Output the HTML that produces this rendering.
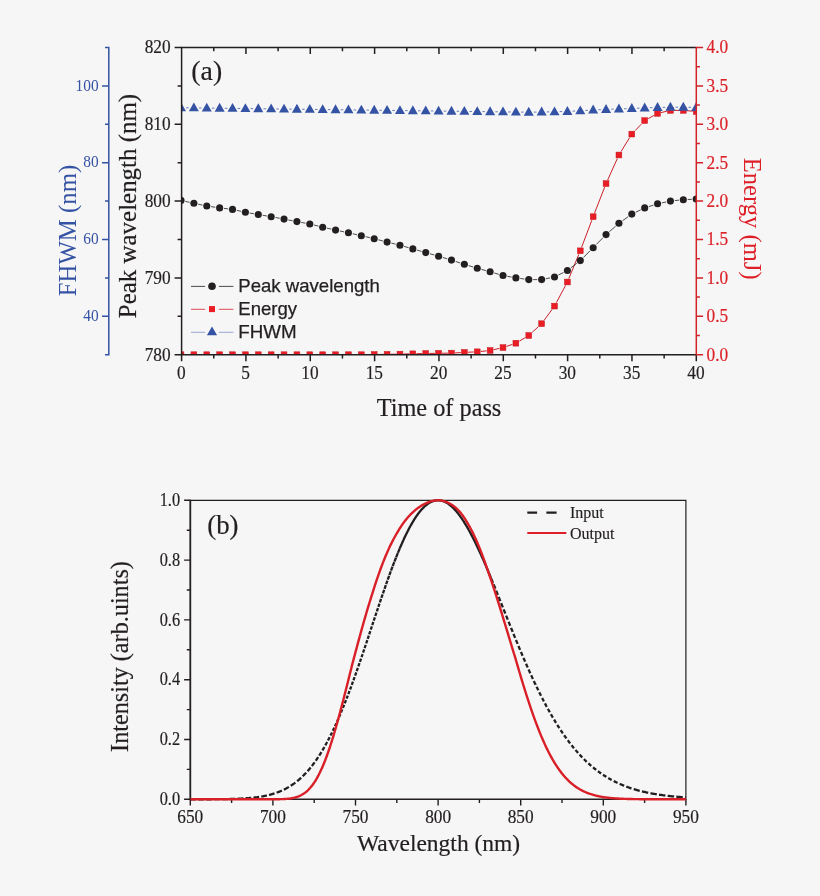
<!DOCTYPE html>
<html lang="en"><head><meta charset="utf-8"><title>Figure</title>
<style>html,body{margin:0;padding:0;background:#f6f6f6;}svg{display:block;}</style>
</head><body>
<svg width="820" height="896" viewBox="0 0 820 896">
<rect width="820" height="896" fill="#f6f6f6"/>
<defs>
<clipPath id="ca"><rect x="181.6" y="47.5" width="514.7" height="307.2"/></clipPath>
</defs>
<g clip-path="url(#ca)">
<path fill="none" stroke="#cc2029" stroke-width="1.0" d="M184.5,354.7 L190.38,354.7 M197.38,354.7 L203.26,354.7 M210.26,354.7 L216.14,354.7 M223.14,354.7 L229.02,354.7 M236.02,354.7 L241.9,354.7 M248.9,354.7 L254.78,354.7 M261.78,354.7 L267.66,354.7 M274.66,354.7 L280.54,354.7 M287.54,354.7 L293.42,354.7 M300.42,354.7 L306.3,354.7 M313.3,354.7 L319.18,354.7 M326.18,354.7 L332.06,354.7 M339.06,354.7 L344.94,354.7 M351.94,354.7 L357.82,354.7 M364.82,354.65 L370.7,354.55 M377.7,354.45 L383.58,354.35 M390.58,354.25 L396.46,354.15 M403.46,354.02 L409.34,353.88 M416.34,353.72 L422.22,353.58 M429.22,353.45 L435.1,353.35 M442.1,353.25 L447.98,353.15 M454.98,352.91 L460.86,352.59 M467.86,352.24 L473.74,351.96 M480.74,351.45 L486.62,350.85 M493.62,349.71 L499.5,348.39 M506.5,346.4 L512.38,344.4 M519.38,341.11 L525.26,337.59 M532.26,332.29 L538.14,326.91 M544.2,320.2 L551.96,309.6 M556.39,302.6 L565.53,285.5 M568.84,278.5 L578.84,254.3 M581.6,247.3 L591.84,220.2 M594.52,213.2 L604.68,187.1 M607.62,180.1 L617.34,158.5 M621.08,151.5 L629.64,137.6 M635.14,130.6 L641.34,124.1 M648.18,118.64 L654.06,115.36 M661.06,112.58 L666.94,111.22 M673.94,110.4 L679.82,110.4 M686.82,110.7 L692.7,111.2"/>
<rect x="178.1" y="351.8" width="5.8" height="5.8" fill="#ea1c24" stroke="#c4181f" stroke-width="0.5"/>
<rect x="190.98" y="351.8" width="5.8" height="5.8" fill="#ea1c24" stroke="#c4181f" stroke-width="0.5"/>
<rect x="203.86" y="351.8" width="5.8" height="5.8" fill="#ea1c24" stroke="#c4181f" stroke-width="0.5"/>
<rect x="216.74" y="351.8" width="5.8" height="5.8" fill="#ea1c24" stroke="#c4181f" stroke-width="0.5"/>
<rect x="229.62" y="351.8" width="5.8" height="5.8" fill="#ea1c24" stroke="#c4181f" stroke-width="0.5"/>
<rect x="242.5" y="351.8" width="5.8" height="5.8" fill="#ea1c24" stroke="#c4181f" stroke-width="0.5"/>
<rect x="255.38" y="351.8" width="5.8" height="5.8" fill="#ea1c24" stroke="#c4181f" stroke-width="0.5"/>
<rect x="268.26" y="351.8" width="5.8" height="5.8" fill="#ea1c24" stroke="#c4181f" stroke-width="0.5"/>
<rect x="281.14" y="351.8" width="5.8" height="5.8" fill="#ea1c24" stroke="#c4181f" stroke-width="0.5"/>
<rect x="294.02" y="351.8" width="5.8" height="5.8" fill="#ea1c24" stroke="#c4181f" stroke-width="0.5"/>
<rect x="306.9" y="351.8" width="5.8" height="5.8" fill="#ea1c24" stroke="#c4181f" stroke-width="0.5"/>
<rect x="319.78" y="351.8" width="5.8" height="5.8" fill="#ea1c24" stroke="#c4181f" stroke-width="0.5"/>
<rect x="332.66" y="351.8" width="5.8" height="5.8" fill="#ea1c24" stroke="#c4181f" stroke-width="0.5"/>
<rect x="345.54" y="351.8" width="5.8" height="5.8" fill="#ea1c24" stroke="#c4181f" stroke-width="0.5"/>
<rect x="358.42" y="351.8" width="5.8" height="5.8" fill="#ea1c24" stroke="#c4181f" stroke-width="0.5"/>
<rect x="371.3" y="351.6" width="5.8" height="5.8" fill="#ea1c24" stroke="#c4181f" stroke-width="0.5"/>
<rect x="384.18" y="351.4" width="5.8" height="5.8" fill="#ea1c24" stroke="#c4181f" stroke-width="0.5"/>
<rect x="397.06" y="351.2" width="5.8" height="5.8" fill="#ea1c24" stroke="#c4181f" stroke-width="0.5"/>
<rect x="409.94" y="350.9" width="5.8" height="5.8" fill="#ea1c24" stroke="#c4181f" stroke-width="0.5"/>
<rect x="422.82" y="350.6" width="5.8" height="5.8" fill="#ea1c24" stroke="#c4181f" stroke-width="0.5"/>
<rect x="435.7" y="350.4" width="5.8" height="5.8" fill="#ea1c24" stroke="#c4181f" stroke-width="0.5"/>
<rect x="448.58" y="350.2" width="5.8" height="5.8" fill="#ea1c24" stroke="#c4181f" stroke-width="0.5"/>
<rect x="461.46" y="349.5" width="5.8" height="5.8" fill="#ea1c24" stroke="#c4181f" stroke-width="0.5"/>
<rect x="474.34" y="348.9" width="5.8" height="5.8" fill="#ea1c24" stroke="#c4181f" stroke-width="0.5"/>
<rect x="487.22" y="347.6" width="5.8" height="5.8" fill="#ea1c24" stroke="#c4181f" stroke-width="0.5"/>
<rect x="500.1" y="344.7" width="5.8" height="5.8" fill="#ea1c24" stroke="#c4181f" stroke-width="0.5"/>
<rect x="512.98" y="340.3" width="5.8" height="5.8" fill="#ea1c24" stroke="#c4181f" stroke-width="0.5"/>
<rect x="525.86" y="332.6" width="5.8" height="5.8" fill="#ea1c24" stroke="#c4181f" stroke-width="0.5"/>
<rect x="538.74" y="320.8" width="5.8" height="5.8" fill="#ea1c24" stroke="#c4181f" stroke-width="0.5"/>
<rect x="551.62" y="303.2" width="5.8" height="5.8" fill="#ea1c24" stroke="#c4181f" stroke-width="0.5"/>
<rect x="564.5" y="279.1" width="5.8" height="5.8" fill="#ea1c24" stroke="#c4181f" stroke-width="0.5"/>
<rect x="577.38" y="247.9" width="5.8" height="5.8" fill="#ea1c24" stroke="#c4181f" stroke-width="0.5"/>
<rect x="590.26" y="213.8" width="5.8" height="5.8" fill="#ea1c24" stroke="#c4181f" stroke-width="0.5"/>
<rect x="603.14" y="180.7" width="5.8" height="5.8" fill="#ea1c24" stroke="#c4181f" stroke-width="0.5"/>
<rect x="616.02" y="152.1" width="5.8" height="5.8" fill="#ea1c24" stroke="#c4181f" stroke-width="0.5"/>
<rect x="628.9" y="131.2" width="5.8" height="5.8" fill="#ea1c24" stroke="#c4181f" stroke-width="0.5"/>
<rect x="641.78" y="117.7" width="5.8" height="5.8" fill="#ea1c24" stroke="#c4181f" stroke-width="0.5"/>
<rect x="654.66" y="110.5" width="5.8" height="5.8" fill="#ea1c24" stroke="#c4181f" stroke-width="0.5"/>
<rect x="667.54" y="107.5" width="5.8" height="5.8" fill="#ea1c24" stroke="#c4181f" stroke-width="0.5"/>
<rect x="680.42" y="107.5" width="5.8" height="5.8" fill="#ea1c24" stroke="#c4181f" stroke-width="0.5"/>
<rect x="693.3" y="108.6" width="5.8" height="5.8" fill="#ea1c24" stroke="#c4181f" stroke-width="0.5"/>
<path fill="none" stroke="#231f20" stroke-width="0.8" d="M185.29,201.37 L189.59,202.33 M198.19,204.2 L202.45,205.1 M211.11,206.64 L215.29,207.26 M224.01,208.41 L228.15,208.89 M236.81,210.37 L241.11,211.33 M249.74,213.04 L253.94,213.76 M262.62,215.24 L266.82,215.96 M275.49,217.51 L279.71,218.29 M288.36,219.94 L292.6,220.76 M301.25,222.41 L305.47,223.19 M314.07,225.06 L318.41,226.14 M326.97,228.17 L331.27,229.13 M339.87,231 L344.13,231.9 M352.73,233.77 L357.03,234.73 M365.61,236.7 L369.91,237.7 M378.45,239.82 L382.83,240.98 M391.36,243.13 L395.68,244.17 M404.19,246.41 L408.61,247.69 M417.07,250.11 L421.49,251.39 M429.96,253.78 L434.36,255.02 M442.81,257.48 L447.27,258.82 M455.66,261.46 L460.18,262.94 M468.57,265.58 L473.03,266.92 M481.48,269.38 L485.88,270.62 M494.35,273.01 L498.77,274.29 M507.33,276.31 L511.55,277.09 M520.24,278.48 L524.4,279.02 M533.16,279.6 L537.24,279.6 M545.95,278.73 L550.21,277.87 M558.45,275.02 L563.47,272.48 M570.89,267.82 L576.79,263.28 M583.39,257.49 L590.05,250.81 M596.24,244.56 L602.96,237.74 M609.35,231.7 L615.61,226.2 M622.5,220.74 L628.22,216.66 M635.76,212.19 L640.72,209.81 M648.87,206.57 L653.37,205.13 M661.87,202.9 L666.13,202 M674.81,200.62 L678.95,200.18 M687.72,199.5 L691.8,199.3"/>
<circle cx="181" cy="200.4" r="3.55" fill="#231f20"/>
<circle cx="193.88" cy="203.3" r="3.55" fill="#231f20"/>
<circle cx="206.76" cy="206" r="3.55" fill="#231f20"/>
<circle cx="219.64" cy="207.9" r="3.55" fill="#231f20"/>
<circle cx="232.52" cy="209.4" r="3.55" fill="#231f20"/>
<circle cx="245.4" cy="212.3" r="3.55" fill="#231f20"/>
<circle cx="258.28" cy="214.5" r="3.55" fill="#231f20"/>
<circle cx="271.16" cy="216.7" r="3.55" fill="#231f20"/>
<circle cx="284.04" cy="219.1" r="3.55" fill="#231f20"/>
<circle cx="296.92" cy="221.6" r="3.55" fill="#231f20"/>
<circle cx="309.8" cy="224" r="3.55" fill="#231f20"/>
<circle cx="322.68" cy="227.2" r="3.55" fill="#231f20"/>
<circle cx="335.56" cy="230.1" r="3.55" fill="#231f20"/>
<circle cx="348.44" cy="232.8" r="3.55" fill="#231f20"/>
<circle cx="361.32" cy="235.7" r="3.55" fill="#231f20"/>
<circle cx="374.2" cy="238.7" r="3.55" fill="#231f20"/>
<circle cx="387.08" cy="242.1" r="3.55" fill="#231f20"/>
<circle cx="399.96" cy="245.2" r="3.55" fill="#231f20"/>
<circle cx="412.84" cy="248.9" r="3.55" fill="#231f20"/>
<circle cx="425.72" cy="252.6" r="3.55" fill="#231f20"/>
<circle cx="438.6" cy="256.2" r="3.55" fill="#231f20"/>
<circle cx="451.48" cy="260.1" r="3.55" fill="#231f20"/>
<circle cx="464.36" cy="264.3" r="3.55" fill="#231f20"/>
<circle cx="477.24" cy="268.2" r="3.55" fill="#231f20"/>
<circle cx="490.12" cy="271.8" r="3.55" fill="#231f20"/>
<circle cx="503" cy="275.5" r="3.55" fill="#231f20"/>
<circle cx="515.88" cy="277.9" r="3.55" fill="#231f20"/>
<circle cx="528.76" cy="279.6" r="3.55" fill="#231f20"/>
<circle cx="541.64" cy="279.6" r="3.55" fill="#231f20"/>
<circle cx="554.52" cy="277" r="3.55" fill="#231f20"/>
<circle cx="567.4" cy="270.5" r="3.55" fill="#231f20"/>
<circle cx="580.28" cy="260.6" r="3.55" fill="#231f20"/>
<circle cx="593.16" cy="247.7" r="3.55" fill="#231f20"/>
<circle cx="606.04" cy="234.6" r="3.55" fill="#231f20"/>
<circle cx="618.92" cy="223.3" r="3.55" fill="#231f20"/>
<circle cx="631.8" cy="214.1" r="3.55" fill="#231f20"/>
<circle cx="644.68" cy="207.9" r="3.55" fill="#231f20"/>
<circle cx="657.56" cy="203.8" r="3.55" fill="#231f20"/>
<circle cx="670.44" cy="201.1" r="3.55" fill="#231f20"/>
<circle cx="683.32" cy="199.7" r="3.55" fill="#231f20"/>
<circle cx="696.2" cy="199.1" r="3.55" fill="#231f20"/>
<path fill="none" stroke="#3553a4" stroke-width="0.75" d="M186.2,107.77 L188.68,107.8 M199.08,107.93 L201.56,107.97 M211.96,108.1 L214.44,108.13 M224.84,108.27 L227.32,108.3 M237.72,108.43 L240.2,108.47 M250.6,108.6 L253.08,108.63 M263.48,108.77 L265.96,108.8 M276.36,108.93 L278.84,108.97 M289.24,109.1 L291.72,109.13 M302.12,109.27 L304.6,109.3 M315,109.43 L317.48,109.47 M327.88,109.6 L330.36,109.63 M340.76,109.77 L343.24,109.8 M353.64,109.93 L356.12,109.97 M366.52,110.1 L369,110.13 M379.4,110.27 L381.88,110.3 M392.28,110.43 L394.76,110.47 M405.16,110.6 L407.64,110.63 M418.04,110.77 L420.52,110.8 M430.92,110.93 L433.4,110.97 M443.8,111.1 L446.28,111.13 M456.68,111.27 L459.16,111.3 M469.56,111.43 L472.04,111.47 M482.44,111.6 L484.92,111.63 M495.32,111.77 L497.8,111.8 M508.2,111.93 L510.68,111.97 M521.08,112.1 L523.56,112.13 M533.96,112.12 L536.44,112.08 M546.84,111.92 L549.32,111.88 M559.72,111.64 L562.2,111.56 M572.59,111.16 L575.09,111.04 M585.47,110.48 L587.97,110.32 M598.35,109.76 L600.85,109.64 M611.24,109.2 L613.72,109.1 M624.12,108.74 L626.6,108.66 M636.99,108.26 L639.49,108.14 M649.88,107.74 L652.36,107.66 M662.76,107.38 L665.24,107.32 M675.64,107.2 L678.12,107.2 M688.52,107.28 L691,107.32"/>
<polygon fill="#3553a4" points="176,111.2 186,111.2 181,102.3"/>
<polygon fill="#3553a4" points="188.88,111.37 198.88,111.37 193.88,102.47"/>
<polygon fill="#3553a4" points="201.76,111.53 211.76,111.53 206.76,102.63"/>
<polygon fill="#3553a4" points="214.64,111.7 224.64,111.7 219.64,102.8"/>
<polygon fill="#3553a4" points="227.52,111.87 237.52,111.87 232.52,102.97"/>
<polygon fill="#3553a4" points="240.4,112.03 250.4,112.03 245.4,103.13"/>
<polygon fill="#3553a4" points="253.28,112.2 263.28,112.2 258.28,103.3"/>
<polygon fill="#3553a4" points="266.16,112.37 276.16,112.37 271.16,103.47"/>
<polygon fill="#3553a4" points="279.04,112.53 289.04,112.53 284.04,103.63"/>
<polygon fill="#3553a4" points="291.92,112.7 301.92,112.7 296.92,103.8"/>
<polygon fill="#3553a4" points="304.8,112.87 314.8,112.87 309.8,103.97"/>
<polygon fill="#3553a4" points="317.68,113.03 327.68,113.03 322.68,104.13"/>
<polygon fill="#3553a4" points="330.56,113.2 340.56,113.2 335.56,104.3"/>
<polygon fill="#3553a4" points="343.44,113.37 353.44,113.37 348.44,104.47"/>
<polygon fill="#3553a4" points="356.32,113.53 366.32,113.53 361.32,104.63"/>
<polygon fill="#3553a4" points="369.2,113.7 379.2,113.7 374.2,104.8"/>
<polygon fill="#3553a4" points="382.08,113.87 392.08,113.87 387.08,104.97"/>
<polygon fill="#3553a4" points="394.96,114.03 404.96,114.03 399.96,105.13"/>
<polygon fill="#3553a4" points="407.84,114.2 417.84,114.2 412.84,105.3"/>
<polygon fill="#3553a4" points="420.72,114.37 430.72,114.37 425.72,105.47"/>
<polygon fill="#3553a4" points="433.6,114.53 443.6,114.53 438.6,105.63"/>
<polygon fill="#3553a4" points="446.48,114.7 456.48,114.7 451.48,105.8"/>
<polygon fill="#3553a4" points="459.36,114.87 469.36,114.87 464.36,105.97"/>
<polygon fill="#3553a4" points="472.24,115.03 482.24,115.03 477.24,106.13"/>
<polygon fill="#3553a4" points="485.12,115.2 495.12,115.2 490.12,106.3"/>
<polygon fill="#3553a4" points="498,115.37 508,115.37 503,106.47"/>
<polygon fill="#3553a4" points="510.88,115.53 520.88,115.53 515.88,106.63"/>
<polygon fill="#3553a4" points="523.76,115.7 533.76,115.7 528.76,106.8"/>
<polygon fill="#3553a4" points="536.64,115.5 546.64,115.5 541.64,106.6"/>
<polygon fill="#3553a4" points="549.52,115.3 559.52,115.3 554.52,106.4"/>
<polygon fill="#3553a4" points="562.4,114.9 572.4,114.9 567.4,106"/>
<polygon fill="#3553a4" points="575.28,114.3 585.28,114.3 580.28,105.4"/>
<polygon fill="#3553a4" points="588.16,113.5 598.16,113.5 593.16,104.6"/>
<polygon fill="#3553a4" points="601.04,112.9 611.04,112.9 606.04,104"/>
<polygon fill="#3553a4" points="613.92,112.4 623.92,112.4 618.92,103.5"/>
<polygon fill="#3553a4" points="626.8,112 636.8,112 631.8,103.1"/>
<polygon fill="#3553a4" points="639.68,111.4 649.68,111.4 644.68,102.5"/>
<polygon fill="#3553a4" points="652.56,111 662.56,111 657.56,102.1"/>
<polygon fill="#3553a4" points="665.44,110.7 675.44,110.7 670.44,101.8"/>
<polygon fill="#3553a4" points="678.32,110.7 688.32,110.7 683.32,101.8"/>
<polygon fill="#3553a4" points="691.2,110.9 701.2,110.9 696.2,102"/>
</g>
<g stroke="#231f20" stroke-width="1.5" fill="none" stroke-linecap="butt">
<path d="M181.6,354.7 V47.5 H696.3"/>
<path d="M180.85,354.7 H696.3"/>
<path d="M181.6,354.7 h-7 M181.6,316.3 h-4 M181.6,277.9 h-7 M181.6,239.5 h-4 M181.6,201.1 h-7 M181.6,162.7 h-4 M181.6,124.3 h-7 M181.6,85.9 h-4 M181.6,47.5 h-7 M181.6,354.7 v6.5 M213.77,354.7 v3.7 M213.77,47.5 v3.7 M245.94,354.7 v6.5 M245.94,47.5 v6.5 M278.11,354.7 v3.7 M278.11,47.5 v3.7 M310.27,354.7 v6.5 M310.27,47.5 v6.5 M342.44,354.7 v3.7 M342.44,47.5 v3.7 M374.61,354.7 v6.5 M374.61,47.5 v6.5 M406.78,354.7 v3.7 M406.78,47.5 v3.7 M438.95,354.7 v6.5 M438.95,47.5 v6.5 M471.12,354.7 v3.7 M471.12,47.5 v3.7 M503.29,354.7 v6.5 M503.29,47.5 v6.5 M535.46,354.7 v3.7 M535.46,47.5 v3.7 M567.62,354.7 v6.5 M567.62,47.5 v6.5 M599.79,354.7 v3.7 M599.79,47.5 v3.7 M631.96,354.7 v6.5 M631.96,47.5 v6.5 M664.13,354.7 v3.7 M664.13,47.5 v3.7 M696.3,354.7 v6.5"/>
</g>
<g stroke="#d3232a" stroke-width="1.5" fill="none">
<path d="M696.3,46.75 V355.45 M696.3,354.7 h6.8 M696.3,335.5 h3.6 M696.3,316.3 h6.8 M696.3,297.1 h3.6 M696.3,277.9 h6.8 M696.3,258.7 h3.6 M696.3,239.5 h6.8 M696.3,220.3 h3.6 M696.3,201.1 h6.8 M696.3,181.9 h3.6 M696.3,162.7 h6.8 M696.3,143.5 h3.6 M696.3,124.3 h6.8 M696.3,105.1 h3.6 M696.3,85.9 h6.8 M696.3,66.7 h3.6 M696.3,47.5 h6.8"/>
</g>
<g stroke="#3553a4" stroke-width="1.5" fill="none">
<path d="M108.8,46.75 V355.45 M108.8,354.7 h-3.8 M108.8,316.3 h-6.8 M108.8,277.9 h-3.8 M108.8,239.5 h-6.8 M108.8,201.1 h-3.8 M108.8,162.7 h-6.8 M108.8,124.3 h-3.8 M108.8,85.9 h-6.8 M108.8,47.5 h-3.8"/>
</g>
<g font-family="'Liberation Serif', serif" font-size="19.8" fill="#231f20" stroke="#231f20" stroke-width="0.2">
<text transform="translate(170.6,360.5) scale(0.874,1)" text-anchor="end">780</text>
<text transform="translate(170.6,283.7) scale(0.874,1)" text-anchor="end">790</text>
<text transform="translate(170.6,206.9) scale(0.874,1)" text-anchor="end">800</text>
<text transform="translate(170.6,130.1) scale(0.874,1)" text-anchor="end">810</text>
<text transform="translate(170.6,53.3) scale(0.874,1)" text-anchor="end">820</text>
<text transform="translate(181.3,379) scale(0.874,1)" text-anchor="middle">0</text>
<text transform="translate(245.64,379) scale(0.874,1)" text-anchor="middle">5</text>
<text transform="translate(309.97,379) scale(0.874,1)" text-anchor="middle">10</text>
<text transform="translate(374.31,379) scale(0.874,1)" text-anchor="middle">15</text>
<text transform="translate(438.65,379) scale(0.874,1)" text-anchor="middle">20</text>
<text transform="translate(502.99,379) scale(0.874,1)" text-anchor="middle">25</text>
<text transform="translate(567.33,379) scale(0.874,1)" text-anchor="middle">30</text>
<text transform="translate(631.66,379) scale(0.874,1)" text-anchor="middle">35</text>
<text transform="translate(696,379) scale(0.874,1)" text-anchor="middle">40</text>
</g>
<g font-family="'Liberation Serif', serif" font-size="19.8" fill="#dc2229" stroke="#dc2229" stroke-width="0.2">
<text transform="translate(706.5,360.5) scale(0.874,1)" text-anchor="start">0.0</text>
<text transform="translate(706.5,322.1) scale(0.874,1)" text-anchor="start">0.5</text>
<text transform="translate(706.5,283.7) scale(0.874,1)" text-anchor="start">1.0</text>
<text transform="translate(706.5,245.3) scale(0.874,1)" text-anchor="start">1.5</text>
<text transform="translate(706.5,206.9) scale(0.874,1)" text-anchor="start">2.0</text>
<text transform="translate(706.5,168.5) scale(0.874,1)" text-anchor="start">2.5</text>
<text transform="translate(706.5,130.1) scale(0.874,1)" text-anchor="start">3.0</text>
<text transform="translate(706.5,91.7) scale(0.874,1)" text-anchor="start">3.5</text>
<text transform="translate(706.5,53.3) scale(0.874,1)" text-anchor="start">4.0</text>
</g>
<g font-family="'Liberation Serif', serif" font-size="17.6" fill="#3553a4">
<text transform="translate(98.6,321) scale(0.874,1)" text-anchor="end">40</text>
<text transform="translate(98.6,244.2) scale(0.874,1)" text-anchor="end">60</text>
<text transform="translate(98.6,167.4) scale(0.874,1)" text-anchor="end">80</text>
<text transform="translate(98.6,90.6) scale(0.874,1)" text-anchor="end">100</text>
</g>
<text font-family="'Liberation Serif', serif" font-size="24.3" fill="#231f20" stroke="#231f20" stroke-width="0.2" x="439" y="415.7" text-anchor="middle">Time of pass</text>
<text font-family="'Liberation Serif', serif" font-size="24.95" fill="#231f20" stroke="#231f20" stroke-width="0.2" transform="translate(135.5,206) rotate(-90)" text-anchor="middle">Peak wavelength (nm)</text>
<text font-family="'Liberation Serif', serif" font-size="24.75" fill="#3553a4" transform="translate(76,230.5) rotate(-90)" text-anchor="middle">FHWM (nm)</text>
<text font-family="'Liberation Serif', serif" font-size="24.6" fill="#de1f27" transform="translate(744.2,218.7) rotate(90)" text-anchor="middle">Energy (mJ)</text>
<text font-family="'Liberation Serif', serif" font-size="27.8" fill="#231f20" stroke="#231f20" stroke-width="0.2" x="191.3" y="80.3">(a)</text>
<g stroke-width="0.8" fill="none">
<path stroke="#231f20" d="M191.0,286.4 H205.1 M218.9,286.4 H233.4"/>
<path stroke="#d8222a" d="M191.0,309.3 H205.1 M218.9,309.3 H233.4"/>
<path stroke="#7f93c6" d="M191.0,332.3 H205.1 M218.9,332.3 H233.4"/>
</g>
<circle cx="212.0" cy="286.29999999999995" r="3.8" fill="#231f20"/>
<rect x="209.0" y="306.1" width="6" height="6" fill="#ea1c24"/>
<polygon fill="#3553a4" points="206.9,335.2 217.1,335.2 212,326.5"/>
<g font-family="'Liberation Sans', sans-serif" font-size="17.9" fill="#231f20" stroke="#231f20" stroke-width="0.25">
<text x="238.3" y="292.1" textLength="141.5" lengthAdjust="spacingAndGlyphs">Peak wavelength</text>
<text x="238.3" y="314.9" textLength="58.8" lengthAdjust="spacingAndGlyphs">Energy</text>
<text x="238.3" y="338" textLength="58.3" lengthAdjust="spacingAndGlyphs">FHWM</text>
</g>
<clipPath id="cb"><rect x="190.3" y="498.3" width="495.6" height="303"/></clipPath>
<g stroke="#231f20" fill="none">
<path stroke-width="1.8" d="M190.3,499.7 V800.2"/>
<path stroke-width="1.2" d="M190.3,500.3 H685.9 V800.1"/>
<path stroke-width="1.6" d="M190.3,799.3 H685.9"/>
<path stroke-width="1.4" d="M190.3,799.3 h-6.2 M190.3,769.4 h-3.5 M190.3,739.5 h-6.2 M190.3,709.6 h-3.5 M190.3,679.7 h-6.2 M190.3,649.8 h-3.5 M190.3,619.9 h-6.2 M190.3,590 h-3.5 M190.3,560.1 h-6.2 M190.3,530.2 h-3.5 M190.3,500.3 h-6.2 M190.3,799.3 v6.3 M231.6,799.3 v3.6 M272.9,799.3 v6.3 M314.2,799.3 v3.6 M355.5,799.3 v6.3 M396.8,799.3 v3.6 M438.1,799.3 v6.3 M479.4,799.3 v3.6 M520.7,799.3 v6.3 M562,799.3 v3.6 M603.3,799.3 v6.3 M644.6,799.3 v3.6 M685.9,799.3 v6.3"/>
</g>
<g clip-path="url(#cb)" fill="none">
<path stroke="#231f20" stroke-width="2.3" d="M190.3,799.29 L191.13,799.29 L191.95,799.29 L192.78,799.29 L193.6,799.29 L194.43,799.29 L195.26,799.29 L196,799.28 M198.2,799.28 L198.56,799.28 L199.39,799.28 L200.21,799.28 L201.04,799.28 L201.86,799.27 L202.69,799.27 L203.52,799.27 L203.9,799.27 M206.1,799.26 L206.82,799.26 L207.65,799.25 L208.47,799.25 L209.3,799.25 L210.12,799.24 L210.95,799.24 L211.78,799.23 L211.8,799.23 M214,799.22 L214.25,799.22 L215.08,799.21 L215.91,799.2 L216.73,799.2 L217.56,799.19 L218.38,799.18 L219.21,799.17 L219.7,799.17 M221.9,799.14 L222.51,799.13 L223.34,799.12 L224.17,799.11 L224.99,799.09 L225.82,799.08 L226.64,799.06 L227.47,799.05 L227.6,799.04 M229.8,798.99 L229.95,798.99 L230.77,798.97 L231.6,798.95 L232.43,798.93 L233.25,798.9 L234.08,798.87 L234.9,798.85 L235.5,798.83 M237.69,798.74 L238.21,798.72 L239.03,798.68 L239.86,798.65 L240.69,798.61 L241.51,798.56 L242.34,798.52 L243.16,798.47 L243.39,798.46 M245.58,798.32 L245.64,798.31 L246.47,798.26 L247.29,798.2 L248.12,798.13 L248.95,798.06 L249.77,797.99 L250.6,797.92 L251.26,797.86 M253.45,797.63 L253.9,797.58 L254.73,797.49 L255.55,797.39 L256.38,797.28 L257.21,797.18 L258.03,797.06 L258.86,796.94 L259.11,796.91 M261.28,796.56 L261.34,796.55 L262.16,796.41 L262.99,796.26 L263.81,796.11 L264.64,795.95 L265.47,795.78 L266.29,795.6 L266.87,795.47 M269.01,794.97 L269.6,794.82 L270.42,794.6 L271.25,794.38 L272.07,794.15 L272.9,793.9 L273.73,793.65 L274.49,793.41 M276.58,792.7 L277.03,792.54 L277.86,792.23 L278.68,791.92 L279.51,791.59 L280.33,791.25 L281.16,790.9 L281.87,790.58 M283.86,789.65 L284.46,789.36 L285.29,788.94 L286.12,788.51 L286.94,788.06 L287.77,787.6 L288.59,787.12 L288.88,786.95 M290.75,785.79 L291.07,785.59 L291.9,785.05 L292.72,784.49 L293.55,783.91 L294.38,783.32 L295.2,782.7 L295.39,782.56 M297.12,781.21 L297.68,780.75 L298.51,780.06 L299.33,779.36 L300.16,778.63 L300.98,777.88 L301.14,777.73 M302.68,776.27 L303.46,775.51 L304.29,774.67 L305.11,773.82 L305.94,772.94 L306.19,772.67 M307.57,771.14 L307.59,771.12 L308.42,770.17 L309.24,769.2 L310.07,768.21 L310.64,767.51 M311.89,765.94 L312.55,765.08 L313.37,763.99 L314.2,762.87 L314.61,762.31 M315.74,760.72 L315.85,760.57 L316.68,759.38 L317.5,758.16 L318.18,757.14 M319.22,755.54 L319.98,754.35 L320.81,753.03 L321.42,752.03 M322.39,750.42 L322.46,750.31 L323.29,748.91 L324.11,747.48 L324.39,746.99 M325.29,745.39 L325.76,744.55 L326.59,743.04 L327.13,742.04 M327.98,740.44 L328.24,739.94 L329.07,738.36 L329.67,737.18 M330.47,735.59 L330.72,735.1 L331.55,733.43 L332.04,732.42 M332.8,730.84 L333.2,730.02 L334.02,728.28 L334.27,727.76 M334.99,726.19 L335.68,724.71 L336.36,723.19 M337.06,721.64 L337.33,721.03 L338.15,719.16 L338.39,718.61 M339.06,717.07 L339.81,715.34 L340.36,714.02 M341.01,712.49 L341.46,711.41 L342.28,709.43 M342.91,707.9 L343.11,707.4 L343.94,705.36 L344.15,704.82 M344.76,703.3 L344.76,703.29 L345.59,701.2 L345.98,700.2 M346.57,698.69 L347.24,696.96 L347.77,695.59 M348.34,694.09 L348.89,692.63 L349.52,690.97 M350.08,689.48 L350.54,688.23 L351.24,686.34 M351.79,684.86 L352.2,683.74 L352.93,681.72 M353.47,680.25 L353.85,679.19 L354.6,677.1 M355.12,675.64 L355.5,674.57 L356.24,672.48 M356.75,671.03 L357.15,669.89 L357.86,667.86 M358.36,666.42 L358.8,665.15 L359.46,663.24 M359.96,661.81 L360.46,660.36 L361.05,658.63 M361.53,657.21 L362.11,655.52 L362.62,654.02 M363.1,652.61 L363.76,650.65 L364.18,649.41 M364.65,648.02 L365.41,645.74 L365.72,644.81 M366.19,643.43 L366.24,643.27 L367.06,640.81 L367.26,640.22 M367.72,638.85 L367.89,638.33 L368.72,635.85 L368.79,635.63 M369.24,634.27 L369.54,633.37 L370.31,631.05 M370.76,629.7 L371.19,628.4 L371.83,626.48 M372.28,625.14 L372.85,623.43 L373.35,621.91 M373.79,620.59 L374.5,618.46 L374.88,617.31 M375.31,616.03 L375.32,615.98 L376.15,613.5 L376.42,612.71 M376.83,611.48 L376.98,611.03 L377.8,608.57 L377.96,608.11 M378.35,606.93 L378.63,606.11 L379.45,603.66 L379.5,603.52 M379.89,602.38 L380.28,601.22 L381.06,598.93 M381.43,597.83 L381.93,596.37 L382.63,594.34 M382.99,593.29 L383.58,591.56 L384.21,589.76 M384.56,588.76 L385.24,586.8 L385.8,585.18 M386.14,584.23 L386.89,582.11 L387.44,580.57 M387.75,579.7 L388.54,577.49 L389.09,575.95 M389.37,575.19 L390.19,572.94 L390.78,571.34 M391.02,570.68 L391.84,568.47 L392.49,566.74 M392.7,566.18 L393.5,564.1 L394.24,562.15 M394.42,561.7 L395.15,559.82 L395.97,557.72 L396.03,557.58 M396.17,557.23 L396.8,555.65 L397.63,553.6 L397.87,553.01 M397.96,552.78 L398.45,551.58 L399.28,549.6 L399.75,548.47 M399.81,548.35 L400.1,547.64 L400.93,545.71 L401.7,543.95 M401.7,543.94 L401.76,543.82 L402.58,541.96 L403.41,540.13 L403.69,539.52 M403.69,539.52 L404.23,538.33 L405.06,536.57 L405.76,535.1 M405.76,535.1 L405.89,534.85 L406.71,533.16 L407.54,531.51 L407.96,530.69 M407.96,530.69 L408.36,529.89 L409.19,528.32 L410.02,526.78 L410.29,526.29 M410.29,526.29 L410.84,525.28 L411.67,523.82 L412.49,522.4 L412.79,521.92 M412.79,521.92 L413.32,521.02 L414.15,519.69 L414.97,518.39 L415.49,517.6 M415.49,517.6 L415.8,517.14 L416.62,515.93 L417.45,514.76 L418.28,513.63 L418.46,513.39 M418.46,513.39 L419.1,512.55 L419.93,511.52 L420.75,510.52 L421.58,509.58 L421.77,509.36 M421.77,509.36 L422.41,508.68 L423.23,507.82 L424.06,507.01 L424.88,506.24 L425.55,505.66 M425.55,505.66 L425.71,505.52 L426.54,504.85 L427.36,504.22 L428.19,503.64 L429.01,503.11 L429.84,502.62 L429.94,502.56 M429.94,502.56 L430.67,502.18 L431.49,501.78 L432.32,501.43 L433.14,501.13 L433.97,500.88 L434.8,500.67 L435.04,500.62 M435.04,500.62 L435.62,500.51 L436.45,500.39 L437.27,500.32 L438.1,500.3 L438.93,500.32 L439.75,500.39 L440.58,500.51 L440.6,500.52 M440.6,500.52 L441.4,500.68 L442.23,500.89 L443.06,501.15 L443.88,501.45 L444.71,501.8 L445.53,502.2 L445.97,502.43 M445.97,502.43 L446.36,502.64 L447.19,503.12 L448.01,503.65 L448.84,504.22 L449.66,504.84 L450.49,505.5 L450.78,505.74 M450.78,505.74 L451.32,506.2 L452.14,506.94 L452.97,507.73 L453.79,508.55 L454.62,509.42 L455.04,509.88 M455.04,509.88 L455.45,510.33 L456.27,511.27 L457.1,512.26 L457.92,513.28 L458.75,514.34 L458.9,514.54 M458.9,514.54 L459.58,515.44 L460.4,516.58 L461.23,517.75 L462.05,518.95 L462.45,519.55 M462.45,519.55 L462.88,520.19 L463.71,521.47 L464.53,522.77 L465.36,524.11 L465.78,524.81 M465.78,524.81 L466.18,525.49 L467.01,526.89 L467.84,528.32 L468.66,529.79 L468.92,530.26 M468.92,530.26 L469.49,531.28 L470.31,532.8 L471.14,534.35 L471.93,535.87 M471.93,535.87 L471.97,535.93 L472.79,537.53 L473.62,539.16 L474.44,540.81 L474.84,541.61 M474.84,541.61 L475.27,542.48 L476.1,544.18 L476.92,545.91 L477.66,547.47 M477.66,547.47 L477.75,547.65 L478.57,549.42 L479.4,551.2 L480.23,553.01 L480.41,553.42 M480.41,553.42 L481.05,554.83 L481.88,556.68 L482.7,558.54 L483.12,559.48 M483.12,559.48 L483.53,560.41 L484.36,562.31 L485.18,564.21 L485.78,565.61 M485.78,565.61 L486.01,566.14 L486.83,568.07 L487.66,570.02 L488.42,571.82 M488.42,571.82 L488.49,571.99 L489.31,573.96 L490.14,575.94 L490.94,577.89 M491.03,578.1 L491.79,579.94 L492.62,581.96 L492.98,582.85 M493.61,584.39 L494.27,586.01 L495.09,588.04 L495.33,588.63 M496.16,590.68 L496.75,592.13 L497.57,594.18 L497.85,594.89 M498.68,596.94 L499.22,598.3 L500.05,600.37 L500.35,601.12 M501.17,603.17 L501.7,604.5 L502.53,606.57 L502.83,607.32 M503.65,609.38 L504.18,610.71 L505.01,612.78 L505.29,613.5 M506.12,615.56 L506.66,616.91 L507.48,618.97 L507.75,619.64 M508.58,621.71 L509.14,623.09 L509.96,625.15 L510.21,625.75 M511.04,627.83 L511.61,629.24 L512.44,631.28 L512.66,631.83 M513.51,633.91 L514.09,635.35 L514.92,637.37 L515.13,637.88 M515.98,639.95 L516.57,641.39 L517.4,643.39 L517.6,643.88 M518.46,645.96 L519.05,647.36 L519.87,649.34 L520.09,649.85 M520.96,651.93 L521.53,653.26 L522.35,655.2 L522.6,655.77 M523.49,657.85 L524,659.06 L524.83,660.97 L525.13,661.65 M526.03,663.73 L526.48,664.76 L527.31,666.63 L527.69,667.48 M528.61,669.56 L528.96,670.35 L529.79,672.19 L530.28,673.27 M531.22,675.34 L531.44,675.82 L532.26,677.62 L532.9,679 M533.87,681.07 L533.92,681.18 L534.74,682.93 L535.57,684.67 L535.57,684.68 M536.56,686.74 L537.22,688.12 L538.05,689.81 L538.28,690.29 M539.29,692.35 L539.7,693.16 L540.52,694.82 L541.04,695.85 M542.09,697.89 L542.18,698.07 L543,699.68 L543.83,701.27 L543.88,701.36 M544.95,703.39 L545.48,704.4 L546.31,705.94 L546.79,706.83 M547.89,708.85 L547.96,708.98 L548.78,710.47 L549.61,711.94 L549.79,712.26 M550.92,714.26 L551.26,714.85 L552.09,716.28 L552.88,717.63 M554.06,719.61 L554.57,720.46 L555.39,721.82 L556.08,722.94 M557.3,724.9 L557.87,725.81 L558.7,727.11 L559.39,728.18 M560.65,730.11 L561.17,730.9 L562,732.13 L562.83,733.34 L562.83,733.34 M564.14,735.24 L564.48,735.72 L565.3,736.89 L566.13,738.04 L566.4,738.41 M567.76,740.27 L567.78,740.29 L568.61,741.39 L569.43,742.48 L570.12,743.37 M571.54,745.18 L571.91,745.65 L572.74,746.68 L573.56,747.69 L574,748.21 M575.48,749.97 L576.04,750.63 L576.87,751.58 L577.69,752.52 L578.04,752.91 M579.59,754.61 L580.17,755.24 L581,756.12 L581.82,756.98 L582.27,757.44 M583.89,759.08 L584.3,759.49 L585.13,760.3 L585.95,761.1 L586.69,761.79 M588.37,763.36 L588.43,763.41 L589.26,764.15 L590.08,764.88 L590.91,765.6 L591.3,765.94 M593.06,767.42 L593.39,767.69 L594.21,768.36 L595.04,769.02 L595.87,769.66 L596.11,769.85 M597.94,771.24 L598.34,771.53 L599.17,772.13 L600,772.72 L600.82,773.3 L601.11,773.5 M603.02,774.79 L603.3,774.98 L604.13,775.52 L604.95,776.04 L605.78,776.56 L606.31,776.89 M608.28,778.07 L609.08,778.53 L609.91,779 L610.73,779.46 L611.56,779.91 L611.68,779.98 M613.72,781.05 L614.04,781.21 L614.86,781.63 L615.69,782.04 L616.52,782.44 L617.34,782.83 L617.55,782.93 M619.65,783.88 L619.82,783.95 L620.65,784.32 L621.47,784.67 L622.3,785.01 L623.12,785.35 L623.95,785.68 L624.14,785.76 M626.28,786.58 L626.43,786.64 L627.25,786.94 L628.08,787.24 L628.91,787.53 L629.73,787.81 L630.56,788.09 L631.38,788.37 L631.5,788.4 M633.69,789.1 L633.86,789.15 L634.69,789.4 L635.51,789.64 L636.34,789.88 L637.17,790.11 L637.99,790.34 L638.82,790.57 L639.64,790.78 L639.73,790.8 M641.96,791.37 L642.12,791.41 L642.95,791.61 L643.77,791.8 L644.6,791.99 L645.43,792.18 L646.25,792.36 L647.08,792.54 L647.9,792.71 L648.21,792.77 M650.46,793.22 L651.21,793.36 L652.03,793.51 L652.86,793.66 L653.69,793.81 L654.51,793.95 L655.34,794.09 L656.16,794.23 L656.79,794.33 M659.03,794.68 L659.47,794.74 L660.29,794.86 L661.12,794.98 L661.95,795.09 L662.77,795.21 L663.6,795.31 L664.42,795.42 L665.25,795.52 L665.42,795.55 M667.66,795.81 L667.73,795.82 L668.55,795.91 L669.38,796.01 L670.21,796.09 L671.03,796.18 L671.86,796.27 L672.68,796.35 L673.51,796.43 L674.09,796.48 M676.31,796.69 L676.81,796.73 L677.64,796.8 L678.47,796.87 L679.29,796.94 L680.12,797 L680.94,797.07 L681.77,797.13 L682.6,797.19 L682.77,797.2 M684.99,797.36 L685.07,797.36 L685.9,797.42"/>
<polyline stroke="#d91f27" stroke-width="2.4" stroke-linejoin="round" points="190.3,799.3 191.13,799.3 191.95,799.3 192.78,799.3 193.6,799.3 194.43,799.3 195.26,799.3 196.08,799.3 196.91,799.3 197.73,799.3 198.56,799.3 199.39,799.3 200.21,799.3 201.04,799.3 201.86,799.3 202.69,799.3 203.52,799.3 204.34,799.3 205.17,799.3 205.99,799.3 206.82,799.3 207.65,799.3 208.47,799.3 209.3,799.3 210.12,799.3 210.95,799.3 211.78,799.3 212.6,799.3 213.43,799.3 214.25,799.3 215.08,799.3 215.91,799.3 216.73,799.3 217.56,799.3 218.38,799.3 219.21,799.3 220.04,799.3 220.86,799.3 221.69,799.3 222.51,799.3 223.34,799.3 224.17,799.3 224.99,799.3 225.82,799.3 226.64,799.3 227.47,799.3 228.3,799.3 229.12,799.3 229.95,799.3 230.77,799.3 231.6,799.3 232.43,799.3 233.25,799.3 234.08,799.3 234.9,799.3 235.73,799.3 236.56,799.3 237.38,799.3 238.21,799.3 239.03,799.3 239.86,799.3 240.69,799.3 241.51,799.3 242.34,799.3 243.16,799.3 243.99,799.3 244.82,799.3 245.64,799.3 246.47,799.3 247.29,799.3 248.12,799.3 248.95,799.3 249.77,799.3 250.6,799.3 251.42,799.3 252.25,799.3 253.08,799.3 253.9,799.3 254.73,799.3 255.55,799.3 256.38,799.3 257.21,799.3 258.03,799.3 258.86,799.3 259.68,799.3 260.51,799.3 261.34,799.3 262.16,799.3 262.99,799.3 263.81,799.3 264.64,799.3 265.47,799.3 266.29,799.3 267.12,799.3 267.94,799.29 268.77,799.29 269.6,799.29 270.42,799.29 271.25,799.29 272.07,799.28 272.9,799.28 273.73,799.27 274.55,799.27 275.38,799.26 276.2,799.25 277.03,799.24 277.86,799.23 278.68,799.21 279.51,799.19 280.33,799.17 281.16,799.15 281.99,799.12 282.81,799.08 283.64,799.05 284.46,799 285.29,798.95 286.12,798.89 286.94,798.83 287.77,798.75 288.59,798.67 289.42,798.57 290.25,798.46 291.07,798.34 291.9,798.2 292.72,798.04 293.55,797.87 294.38,797.68 295.2,797.47 296.03,797.23 296.85,796.98 297.68,796.69 298.51,796.38 299.33,796.04 300.16,795.66 300.98,795.26 301.81,794.81 302.64,794.33 303.46,793.82 304.29,793.25 305.11,792.65 305.94,792 306.77,791.3 307.59,790.56 308.42,789.76 309.24,788.91 310.07,788 310.9,787.04 311.72,786.02 312.55,784.94 313.37,783.8 314.2,782.6 315.03,781.33 315.85,780 316.68,778.6 317.5,777.14 318.33,775.6 319.16,774 319.98,772.34 320.81,770.6 321.63,768.79 322.46,766.92 323.29,764.98 324.11,762.96 324.94,760.88 325.76,758.74 326.59,756.53 327.42,754.25 328.24,751.9 329.07,749.5 329.89,747.03 330.72,744.5 331.55,741.92 332.37,739.27 333.2,736.57 334.02,733.82 334.85,731.02 335.68,728.16 336.5,725.27 337.33,722.32 338.15,719.34 338.98,716.31 339.81,713.25 340.63,710.15 341.46,707.02 342.28,703.87 343.11,700.68 343.94,697.47 344.76,694.24 345.59,691 346.41,687.73 347.24,684.45 348.07,681.17 348.89,677.87 349.72,674.57 350.54,671.26 351.37,667.96 352.2,664.66 353.02,661.52 353.85,658.4 354.67,655.28 355.5,652.17 356.33,649.07 357.15,645.99 357.98,642.93 358.8,639.88 359.63,636.85 360.46,633.84 361.28,630.85 362.11,627.89 362.93,624.95 363.76,622.04 364.59,619.16 365.41,616.3 366.24,613.48 367.06,610.68 367.89,607.92 368.72,605.2 369.54,602.5 370.37,599.85 371.19,597.22 372.02,594.64 372.85,591.96 373.67,589.32 374.5,586.72 375.32,584.17 376.15,581.66 376.98,579.19 377.8,576.77 378.63,574.39 379.45,572.06 380.28,569.77 381.11,567.53 381.93,565.33 382.76,563.18 383.58,561.08 384.41,559.02 385.24,557 386.06,555.03 386.89,553.1 387.71,551.22 388.54,549.38 389.37,547.59 390.19,545.84 391.02,544.13 391.84,542.47 392.67,540.85 393.5,539.27 394.32,537.73 395.15,536.23 395.97,534.77 396.8,533.35 397.63,531.92 398.45,530.53 399.28,529.18 400.1,527.87 400.93,526.6 401.76,525.36 402.58,524.17 403.41,523.01 404.23,521.9 405.06,520.81 405.89,519.76 406.71,518.75 407.54,517.77 408.36,516.83 409.19,515.91 410.02,515.03 410.84,514.18 411.67,513.36 412.49,512.56 413.32,511.8 414.15,511.06 414.97,510.36 415.8,509.67 416.62,509.02 417.45,508.39 418.28,507.78 419.1,507.2 419.93,506.64 420.75,506.11 421.58,505.59 422.41,505.12 423.23,504.67 424.06,504.23 424.88,503.82 425.71,503.42 426.54,503.04 427.36,502.67 428.19,502.32 429.01,502 429.84,501.7 430.67,501.44 431.49,501.2 432.32,500.99 433.14,500.81 433.97,500.65 434.8,500.52 435.62,500.43 436.45,500.36 437.27,500.31 438.1,500.3 438.93,500.32 439.75,500.37 440.58,500.45 441.4,500.57 442.23,500.72 443.06,500.91 443.88,501.12 444.71,501.38 445.53,501.66 446.36,501.98 447.19,502.33 448.01,502.72 448.84,503.15 449.66,503.61 450.49,504.05 451.32,504.53 452.14,505.05 452.97,505.6 453.79,506.2 454.62,506.84 455.45,507.53 456.27,508.26 457.1,509.03 457.92,509.85 458.75,510.72 459.58,511.64 460.4,512.6 461.23,513.62 462.05,514.69 462.88,515.8 463.71,516.97 464.53,518.19 465.36,519.46 466.18,520.78 467.01,522.16 467.84,523.59 468.66,525 469.49,526.46 470.31,527.96 471.14,529.52 471.97,531.12 472.79,532.77 473.62,534.47 474.44,536.21 475.27,538.01 476.1,539.84 476.92,541.73 477.75,543.66 478.57,545.64 479.4,547.66 480.23,549.72 481.05,551.83 481.88,553.98 482.7,556.17 483.53,558.4 484.36,560.67 485.18,562.99 486.01,565.33 486.83,567.72 487.66,570.14 488.49,572.48 489.31,574.84 490.14,577.24 490.96,579.66 491.79,582.11 492.62,584.59 493.44,587.09 494.27,589.61 495.09,592.16 495.92,594.73 496.75,597.32 497.57,599.93 498.4,602.55 499.22,605.19 500.05,607.85 500.88,610.52 501.7,613.2 502.53,615.89 503.35,618.59 504.18,621.3 505.01,624.02 505.83,626.74 506.66,629.47 507.48,632.2 508.31,634.93 509.14,637.67 509.96,640.4 510.79,643.13 511.61,645.85 512.44,648.57 513.27,651.28 514.09,653.99 514.92,656.69 515.74,659.38 516.57,662.24 517.4,665.08 518.22,667.92 519.05,670.73 519.87,673.53 520.7,676.3 521.53,679.06 522.35,681.79 523.18,684.5 524,687.19 524.83,689.85 525.66,692.48 526.48,695.09 527.31,697.66 528.13,700.21 528.96,702.73 529.79,705.21 530.61,707.67 531.44,710.09 532.26,712.47 533.09,714.83 533.92,717.14 534.74,719.42 535.57,721.67 536.39,723.88 537.22,726.05 538.05,728.18 538.87,730.28 539.7,732.34 540.52,734.36 541.35,736.34 542.18,738.28 543,740.18 543.83,742.05 544.65,743.87 545.48,745.66 546.31,747.41 547.13,749.12 547.96,750.79 548.78,752.42 549.61,754.01 550.44,755.56 551.26,757.08 552.09,758.56 552.91,760 553.74,761.4 554.57,762.76 555.39,764.09 556.22,765.39 557.04,766.64 557.87,767.87 558.7,769.05 559.52,770.21 560.35,771.33 561.17,772.41 562,773.46 562.83,774.49 563.65,775.47 564.48,776.43 565.3,777.36 566.13,778.26 566.96,779.12 567.78,779.96 568.61,780.77 569.43,781.56 570.26,782.31 571.09,783.04 571.91,783.75 572.74,784.43 573.56,785.08 574.39,785.71 575.22,786.32 576.04,786.9 576.87,787.47 577.69,788.01 578.52,788.53 579.35,789.03 580.17,789.51 581,789.97 581.82,790.41 582.65,790.84 583.48,791.24 584.3,791.63 585.13,792.01 585.95,792.37 586.78,792.71 587.61,793.04 588.43,793.35 589.26,793.65 590.08,793.94 590.91,794.21 591.74,794.47 592.56,794.72 593.39,794.96 594.21,795.19 595.04,795.41 595.87,795.62 596.69,795.81 597.52,796 598.34,796.18 599.17,796.35 600,796.51 600.82,796.66 601.65,796.81 602.47,796.95 603.3,797.08 604.13,797.21 604.95,797.33 605.78,797.44 606.6,797.55 607.43,797.65 608.26,797.74 609.08,797.83 609.91,797.92 610.73,798 611.56,798.08 612.39,798.15 613.21,798.22 614.04,798.29 614.86,798.35 615.69,798.41 616.52,798.46 617.34,798.51 618.17,798.56 618.99,798.61 619.82,798.65 620.65,798.69 621.47,798.73 622.3,798.77 623.12,798.8 623.95,798.83 624.78,798.86 625.6,798.89 626.43,798.92 627.25,798.94 628.08,798.97 628.91,798.99 629.73,799.01 630.56,799.03 631.38,799.05 632.21,799.06 633.04,799.08 633.86,799.09 634.69,799.11 635.51,799.12 636.34,799.13 637.17,799.15 637.99,799.16 638.82,799.17 639.64,799.18 640.47,799.18 641.3,799.19 642.12,799.2 642.95,799.21 643.77,799.21 644.6,799.22 645.43,799.23 646.25,799.23 647.08,799.24 647.9,799.24 648.73,799.24 649.56,799.25 650.38,799.25 651.21,799.26 652.03,799.26 652.86,799.26 653.69,799.27 654.51,799.27 655.34,799.27 656.16,799.27 656.99,799.27 657.82,799.28 658.64,799.28 659.47,799.28 660.29,799.28 661.12,799.28 661.95,799.28 662.77,799.29 663.6,799.29 664.42,799.29 665.25,799.29 666.08,799.29 666.9,799.29 667.73,799.29 668.55,799.29 669.38,799.29 670.21,799.29 671.03,799.29 671.86,799.29 672.68,799.29 673.51,799.3 674.34,799.3 675.16,799.3 675.99,799.3 676.81,799.3 677.64,799.3 678.47,799.3 679.29,799.3 680.12,799.3 680.94,799.3 681.77,799.3 682.6,799.3 683.42,799.3 684.25,799.3 685.07,799.3 685.9,799.3"/>
</g>
<g font-family="'Liberation Serif', serif" font-size="19.8" fill="#231f20" stroke="#231f20" stroke-width="0.2">
<text transform="translate(180.1,804.9) scale(0.86,1)" text-anchor="end" font-size="19.0">0.0</text>
<text transform="translate(180.1,745.1) scale(0.86,1)" text-anchor="end" font-size="19.0">0.2</text>
<text transform="translate(180.1,685.3) scale(0.86,1)" text-anchor="end" font-size="19.0">0.4</text>
<text transform="translate(180.1,625.5) scale(0.86,1)" text-anchor="end" font-size="19.0">0.6</text>
<text transform="translate(180.1,565.7) scale(0.86,1)" text-anchor="end" font-size="19.0">0.8</text>
<text transform="translate(180.1,505.9) scale(0.86,1)" text-anchor="end" font-size="19.0">1.0</text>
<text transform="translate(190.3,822.6) scale(0.874,1)" text-anchor="middle">650</text>
<text transform="translate(272.9,822.6) scale(0.874,1)" text-anchor="middle">700</text>
<text transform="translate(355.5,822.6) scale(0.874,1)" text-anchor="middle">750</text>
<text transform="translate(438.1,822.6) scale(0.874,1)" text-anchor="middle">800</text>
<text transform="translate(520.7,822.6) scale(0.874,1)" text-anchor="middle">850</text>
<text transform="translate(603.3,822.6) scale(0.874,1)" text-anchor="middle">900</text>
<text transform="translate(685.9,822.6) scale(0.874,1)" text-anchor="middle">950</text>
</g>
<text font-family="'Liberation Serif', serif" font-size="23.5" fill="#231f20" stroke="#231f20" stroke-width="0.2" x="438.6" y="850.5" text-anchor="middle">Wavelength (nm)</text>
<text font-family="'Liberation Serif', serif" font-size="24.2" fill="#231f20" stroke="#231f20" stroke-width="0.2" transform="translate(127.7,656.5) rotate(-90)" text-anchor="middle">Intensity (arb.uints)</text>
<text font-family="'Liberation Serif', serif" font-size="26.8" fill="#231f20" stroke="#231f20" stroke-width="0.2" x="207.3" y="534">(b)</text>
<path stroke="#231f20" stroke-width="2.1" fill="none" d="M527.3,512.6 H537.1 M546.4,512.6 H556.6"/>
<path stroke="#de1f27" stroke-width="2.1" fill="none" d="M527.3,533 H566.3"/>
<g font-family="'Liberation Serif', serif" font-size="16" fill="#231f20" stroke="#231f20" stroke-width="0.15">
<text x="570" y="517.8">Input</text>
<text x="570" y="539">Output</text>
</g>
</svg>
</body></html>
